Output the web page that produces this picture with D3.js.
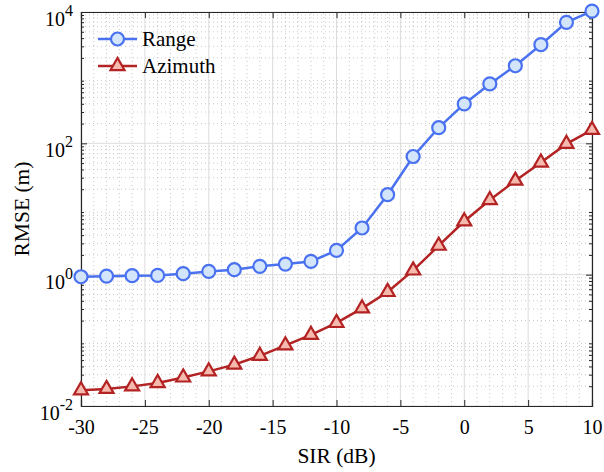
<!DOCTYPE html>
<html>
<head>
<meta charset="utf-8">
<script src="https://cdn.jsdelivr.net/npm/d3@7.9.0/dist/d3.min.js"></script>
<style>
  body { margin: 0; background: #fff; }
  svg { display: block; }
  svg text { font-family: 'Liberation Serif', 'Times New Roman', Times, serif !important; }
</style>
</head>
<body>
<svg id="chart" width="604" height="472"></svg>
<script>
// SIR values (dB)
const sir = [-30, -28, -26, -24, -22, -20, -18, -16, -14, -12, -10, -8, -6, -4, -2, 0, 2, 4, 6, 8, 10];
// RMSE (m)
const rangeRmse = [0.93, 0.95, 0.965, 0.975, 1.035, 1.12, 1.19, 1.34, 1.45, 1.59, 2.34, 5.14, 16.5, 63, 173, 398, 803, 1520, 3180, 6960, 10300];
const azimuthRmse = [0.0173, 0.0182, 0.0199, 0.0224, 0.0272, 0.0337, 0.0426, 0.058, 0.084, 0.121, 0.184, 0.307, 0.545, 1.16, 2.76, 6.5, 13.7, 27, 51, 98, 160];
const xTicks = [-30, -25, -20, -15, -10, -5, 0, 5, 10];
const yExponents = [-2, 0, 2, 4];

const margin = { left: 81, right: 12, top: 12, bottom: 66 };
const W = 604, H = 472;
const svg = d3.select('#chart');

const x = d3.scaleLinear().domain([-30, 10]).range([margin.left, W - margin.right]);
const y = d3.scaleLog().domain([1e-2, 1e4]).range([H - margin.bottom, margin.top]);

const g = svg.append('g');

// minor grid
const minorX = d3.range(-30, 11, 1).filter(v => v % 5 !== 0);
const minorY = [];
for (let e = -2; e < 4; e++) for (let k = 2; k <= 9; k++) minorY.push(k * Math.pow(10, e));

g.selectAll('.mx').data(minorX).join('line')
  .attr('x1', d => x(d)).attr('x2', d => x(d))
  .attr('y1', y(1e-2)).attr('y2', y(1e4))
  .attr('stroke', '#bdbdbd').attr('stroke-width', 1).attr('stroke-dasharray', '1,3')
  .attr('opacity', 0.8);
g.selectAll('.my').data(minorY).join('line')
  .attr('x1', x(-30)).attr('x2', x(10))
  .attr('y1', d => y(d)).attr('y2', d => y(d))
  .attr('stroke', '#bdbdbd').attr('stroke-width', 1).attr('stroke-dasharray', '1,3')
  .attr('opacity', 0.8);

// major grid
g.selectAll('.gx').data(xTicks).join('line')
  .attr('x1', d => x(d)).attr('x2', d => x(d))
  .attr('y1', y(1e-2)).attr('y2', y(1e4))
  .attr('stroke', '#dcdcdc').attr('stroke-width', 1);
g.selectAll('.gy').data(yExponents).join('line')
  .attr('x1', x(-30)).attr('x2', x(10))
  .attr('y1', d => y(Math.pow(10, d))).attr('y2', d => y(Math.pow(10, d)))
  .attr('stroke', '#dcdcdc').attr('stroke-width', 1);

// axes (ticks inward, box on)
const axisColor = '#262626';
const axBottom = svg.append('g').attr('transform', `translate(0,${y(1e-2)})`)
  .call(d3.axisBottom(x).tickValues(xTicks).tickSize(-6).tickPadding(14).tickFormat(d => String(d)));
const axTop = svg.append('g').attr('transform', `translate(0,${y(1e4)})`)
  .call(d3.axisTop(x).tickValues(xTicks).tickSize(-6).tickFormat(''));
const yMajor = yExponents.map(e => Math.pow(10, e));
const axLeft = svg.append('g').attr('transform', `translate(${x(-30)},0)`)
  .call(d3.axisLeft(y).tickValues(yMajor).tickSize(-6).tickFormat(''));
const axRight = svg.append('g').attr('transform', `translate(${x(10)},0)`)
  .call(d3.axisRight(y).tickValues(yMajor).tickSize(-6).tickFormat(''));
const axLeftMinor = svg.append('g').attr('transform', `translate(${x(-30)},0)`)
  .call(d3.axisLeft(y).tickValues(minorY).tickSize(-3).tickFormat(''));
const axRightMinor = svg.append('g').attr('transform', `translate(${x(10)},0)`)
  .call(d3.axisRight(y).tickValues(minorY).tickSize(-3).tickFormat(''));

[axBottom, axTop, axLeft, axRight, axLeftMinor, axRightMinor].forEach(a => {
  a.attr('font-family', null);
  a.select('.domain').attr('stroke', axisColor).attr('stroke-width', 1.2);
  a.selectAll('.tick line').attr('stroke', axisColor).attr('stroke-width', 1);
});
axLeftMinor.select('.domain').remove();
axRightMinor.select('.domain').remove();

axBottom.selectAll('.tick text')
  .attr('font-size', 20).attr('fill', '#000');

// y tick labels 10^n
yExponents.forEach(e => {
  const t = svg.append('text')
    .attr('x', x(-30) - 8).attr('y', y(Math.pow(10, e)) + 14)
    .attr('text-anchor', 'end').attr('font-size', 20).attr('fill', '#000');
  t.append('tspan').text('10');
  t.append('tspan').attr('dy', -10).attr('font-size', 16).text(e);
});

// axis labels
svg.append('text')
  .attr('x', (x(-30) + x(10)) / 2).attr('y', 463)
  .attr('text-anchor', 'middle').attr('font-size', 21.5).attr('fill', '#000')
  .text('SIR (dB)');
svg.append('text')
  .attr('transform', `translate(29,${(y(1e-2) + y(1e4)) / 2}) rotate(-90)`)
  .attr('text-anchor', 'middle').attr('font-size', 21.5).attr('fill', '#000')
  .text('RMSE (m)');

// series
const blue = '#4a72f0', blueFill = '#d3e5fb';
const red = '#b32323', redFill = '#f5b9ad';
const line = d3.line().x(d => x(d[0])).y(d => y(d[1]));
const rangeData = sir.map((s, i) => [s, rangeRmse[i]]);
const azData = sir.map((s, i) => [s, azimuthRmse[i]]);

const tri = d3.symbol().type(d3.symbolTriangle).size(85);

svg.append('path').datum(rangeData).attr('d', line)
  .attr('fill', 'none').attr('stroke', blue).attr('stroke-width', 2.5);
svg.append('path').datum(azData).attr('d', line)
  .attr('fill', 'none').attr('stroke', red).attr('stroke-width', 2.5);

svg.selectAll('.az').data(azData).join('path')
  .attr('d', tri)
  .attr('transform', d => `translate(${x(d[0])},${y(d[1])})`)
  .attr('fill', redFill).attr('stroke', red).attr('stroke-width', 2.2);
svg.selectAll('.rg').data(rangeData).join('circle')
  .attr('cx', d => x(d[0])).attr('cy', d => y(d[1])).attr('r', 6.5)
  .attr('fill', blueFill).attr('stroke', blue).attr('stroke-width', 2.2);

// legend
const legend = svg.append('g');
const items = [
  { name: 'Range', color: blue, fill: blueFill, shape: 'circle' },
  { name: 'Azimuth', color: red, fill: redFill, shape: 'triangle' }
];
items.forEach((it, i) => {
  const ly = 39 + i * 27;
  legend.append('line').attr('x1', 98).attr('x2', 137).attr('y1', ly).attr('y2', ly)
    .attr('stroke', it.color).attr('stroke-width', 2.5);
  if (it.shape === 'circle') {
    legend.append('circle').attr('cx', 117.5).attr('cy', ly).attr('r', 6.5)
      .attr('fill', it.fill).attr('stroke', it.color).attr('stroke-width', 2.2);
  } else {
    legend.append('path').attr('d', tri).attr('transform', `translate(117.5,${ly})`)
      .attr('fill', it.fill).attr('stroke', it.color).attr('stroke-width', 2.2);
  }
  legend.append('text').attr('x', 142).attr('y', ly + 7)
    .attr('font-size', 21).attr('fill', '#000').text(it.name);
});
</script>
</body>
</html>
